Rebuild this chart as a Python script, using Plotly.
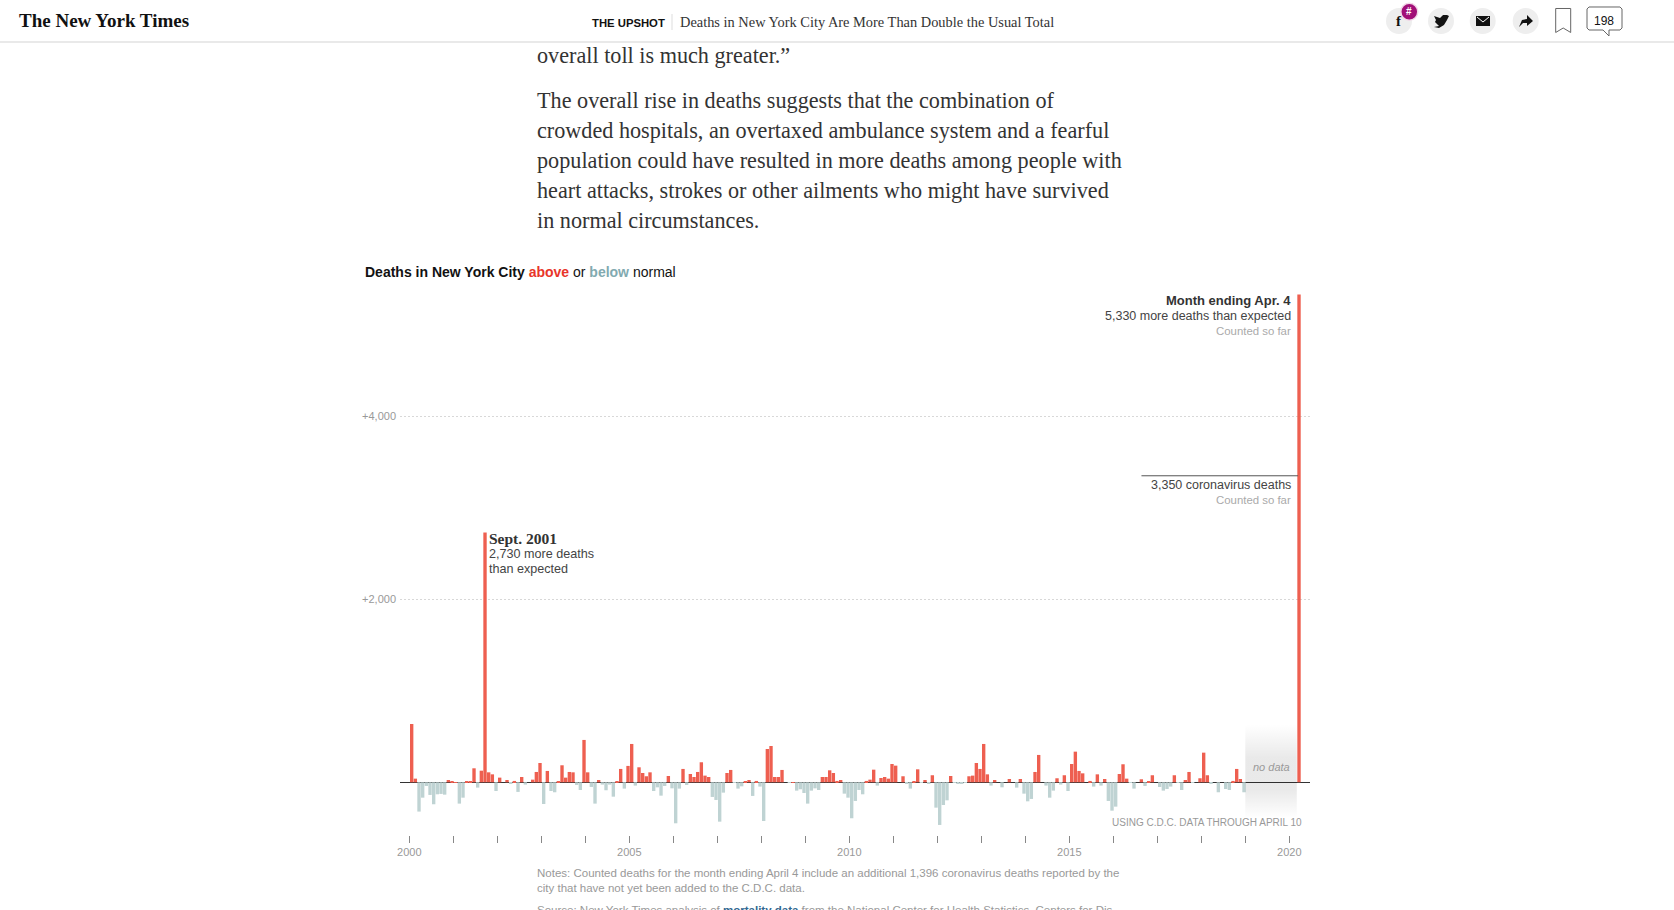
# deaths in new york city above or below normal, nyt upshot page
import plotly.graph_objects as go

W, H = 1674, 910

# monthly excess deaths
d2000 = [637, 40, -320, -168, -40, -138, -240, -131, -127, -135, 25, 5]
d2001 = [3, -233, -168, 4, 4, 153, -58, 127, 2730, 109, 87, -95]
d2002 = [51, 0, 25, -15, 15, -105, 58, -25, 0, 29, 113, 211]
d2003 = [-237, 124, -95, -109, 4, 186, 51, 113, 109, -29, -84, 463]
d2004 = [109, -51, -233, 25, -25, -87, -25, -157, 11, 146, -69, 179]
d2005 = [419, -36, 164, 102, 66, 109, -95, -55, -146, -40, 69, -66]
d2006 = [-448, -69, 146, -29, 91, 58, 113, 219, 73, 58, -160, -193]
d2007 = [-430, -113, 102, 135, -7, -69, -44, 11, 25, -149, 15, -47]
d2008 = [-423, 364, 397, 58, 58, 135, 0, -5, 2, -91, -76, -117]
d2009 = [-233, -91, -66, -84, 58, 58, 131, 102, 15, 25, -124, -168]
d2010 = [-393, -204, -84, -131, 15, 29, 138, -36, 47, 58, 40, 200]
d2011 = [182, 0, 66, -11, -69, 7, 142, -7, 25, -18, 77, -277]
d2012 = [-466, -248, -197, 69, -7, -11, -11, -7, 66, 73, 211, 146]
d2013 = [419, 87, -36, 25, 0, -55, 0, 36, 0, -58, 36, -124]
d2014 = [-208, -182, 113, 299, 0, -36, -168, -91, 44, -25, 77, -95]
d2015 = [200, 335, 124, 98, 0, 15, -47, 87, -36, 36, -204, -310]
d2016 = [-266, 91, 197, 40, -7, -69, 0, 33, -40, 4, 77, 0]
d2017 = [-51, -91, -73, -47, 77, -4, -84, 25, 113, -7, 0, 44]
d2018 = [324, 77, -15, 0, -109, 0, -73, -84, 15, 146, 36, -109]
d2019 = [None] * 12
d2020 = [None, None, 5330]
coronavirus_deaths = 3350

all_years = [d2000, d2001, d2002, d2003, d2004, d2005, d2006, d2007, d2008, d2009,
             d2010, d2011, d2012, d2013, d2014, d2015, d2016, d2017, d2018, d2019, d2020]

tick_years = list(range(2000, 2021))
tick_labels = [str(y) if y % 5 == 0 else "" for y in tick_years]
grid_values = [2000, 4000]
grid_labels = ["+2,000", "+4,000"]

RED = "#ee5f50"
BLUE = "#bfd3d3"
SANS = "Liberation Sans"
SERIF = "Liberation Serif"

# pixel box of the chart in the page
LEFT, RIGHT, BOTTOM = 400, 1310, 835
ZERO_PX, PX_PER_DEATH = 782.3, 0.0915
PX_PER_YEAR = 44
YEAR_2000_PX = 409.3

months, values = [], []
for n, year in enumerate(all_years):
    for m, v in enumerate(year):
        months.append(2000 + n + (m + 0.65) / 12)
        values.append(v)
colors = [RED if (v or 0) > 0 else BLUE for v in values]


def px(x):
    return x / W


def py(y):
    return 1 - y / H


fig = go.Figure()

# grey "no data" band, fades out at both ends
fig.add_trace(go.Scatter(
    x=[2019, 2019, 2020.17, 2020.17, 2019], y=[630, -390, -390, 630, 630],
    mode="none", fill="toself", hoverinfo="skip",
    fillgradient=dict(type="vertical", colorscale=[
        [0, "rgba(0,0,0,0)"], [0.35, "rgba(0,0,0,0.085)"], [0.7, "rgba(0,0,0,0.085)"], [1, "rgba(0,0,0,0)"]],
        start=630, stop=-390),
))
fig.add_trace(go.Bar(x=months, y=values, width=0.92 / 12, marker=dict(color=colors, line_width=0)))

fig.update_xaxes(
    domain=[px(LEFT), px(RIGHT)], automargin=False,
    range=[2000 + (LEFT - YEAR_2000_PX) / PX_PER_YEAR, 2000 + (RIGHT - YEAR_2000_PX) / PX_PER_YEAR],
    tickmode="array", tickvals=tick_years, ticktext=tick_labels,
    ticks="outside", ticklen=7, tickwidth=1, tickcolor="#888",
    tickfont=dict(family=SANS, size=11, color="#999"),
    showgrid=False, zeroline=False, showline=False, fixedrange=True,
)
fig.update_yaxes(
    domain=[py(BOTTOM), 1], automargin=False,
    range=[(ZERO_PX - BOTTOM) / PX_PER_DEATH, ZERO_PX / PX_PER_DEATH],
    tickmode="array", tickvals=grid_values, ticktext=grid_labels,
    tickfont=dict(family=SANS, size=11, color="#999"), ticklabelstandoff=3,
    ticks="", showgrid=True, gridcolor="#d8d8d8", griddash="2px,2px", gridwidth=1,
    zeroline=True, zerolinecolor="#333", zerolinewidth=1, showline=False, fixedrange=True,
)


def note(text, x, y, size=12, color="#333", family=SANS, align="left"):
    # annotations carry about 2px of padding inside their box, take it back out
    nudge = {"left": -2, "right": 2, "center": 0}[align]
    fig.add_annotation(text=text, x=px(x + nudge), y=py(y - 0.7), xref="paper", yref="paper", showarrow=False,
                       xanchor=align, yanchor="middle", align=align,
                       font=dict(family=family, size=size, color=color))


# chart texts
note('<b>Deaths in New York City</b> <b style="color:#e8352a">above</b> or '
     '<b style="color:#82aab0">below</b> normal', 364.5, 272.5, size=14, color="#121212")
note("<b>Month ending Apr. 4</b>", 1291, 301, size=13, color="#333", align="right")
note("5,330 more deaths than expected", 1291, 316.5, size=12.5, color="#444", align="right")
note("Counted so far", 1291, 332, size=11.4, color="#aaa", align="right")
note("3,350 coronavirus deaths", 1291, 485.5, size=12.5, color="#444", align="right")
note("Counted so far", 1291, 500.5, size=11.4, color="#aaa", align="right")
note("<b>Sept. 2001</b>", 489, 539, size=15.5, color="#333", family=SERIF)
note("2,730 more deaths", 489, 555, size=12.6, color="#444")
note("than expected", 489, 570, size=12.6, color="#444")
note("<i>no data</i>", 1271, 768, size=11, color="#999", align="center")
note("USING C.D.C. DATA THROUGH APRIL 10", 1302, 823, size=10, color="#999", align="right")

# coronavirus rule across to the last bar
fig.add_shape(type="line", xref="x", yref="y", x0=2016.64, x1=2020.2,
              y0=coronavirus_deaths, y1=coronavirus_deaths, line=dict(color="#555", width=1))

# article text around the chart
note("overall toll is much greater.”", 537, 56, size=22.2, color="#333", family=SERIF)
body = ["The overall rise in deaths suggests that the combination of",
        "crowded hospitals, an overtaxed ambulance system and a fearful",
        "population could have resulted in more deaths among people with",
        "heart attacks, strokes or other ailments who might have survived",
        "in normal circumstances."]
for n, line in enumerate(body):
    note(line, 537, 101 + 30 * n, size=22.2, color="#333", family=SERIF)
note("Notes: Counted deaths for the month ending April 4 include an additional 1,396 coronavirus deaths reported by the",
     537, 874, size=11.5, color="#999")
note("city that have not yet been added to the C.D.C. data.", 537, 889, size=11.5, color="#999")
note('Source: New York Times analysis of <b style="color:#326891">mortality data</b> from the National Center for '
     'Health Statistics, Centers for Dis', 537, 911, size=11.5, color="#999")

# top bar of the page
fig.add_shape(type="rect", xref="paper", yref="paper", x0=0, x1=1, y0=py(42), y1=1,
              fillcolor="white", line_width=0)
fig.add_shape(type="line", xref="paper", yref="paper", x0=0, x1=1, y0=py(42), y1=py(42),
              line=dict(color="#e2e2e2", width=1.5))
note("<b>The New York Times</b>", 19, 21, size=19, color="#111", family=SERIF)
note("<b>THE UPSHOT</b>", 592, 23.5, size=11.3, color="#111")
fig.add_shape(type="line", xref="paper", yref="paper", x0=px(672), x1=px(672), y0=py(14), y1=py(30),
              line=dict(color="#ddd", width=1))
note("Deaths in New York City Are More Than Double the Usual Total", 680, 22.5, size=14.4, color="#333", family=SERIF)


def circle(cx, cy, r, fill, line=None):
    fig.add_shape(type="circle", xref="paper", yref="paper", layer="above",
                  x0=px(cx - r), x1=px(cx + r), y0=py(cy + r), y1=py(cy - r), fillcolor=fill,
                  line=dict(color=line or fill, width=1.5 if line else 0))


def path(points, fill=None, line=None, width=1.5):
    d = "M" + " L".join(f"{px(x):.5f},{py(y):.5f}" for x, y in points) + (" Z" if fill else "")
    fig.add_shape(type="path", xref="paper", yref="paper", path=d, layer="above",
                  fillcolor=fill or "rgba(0,0,0,0)", line=dict(color=line or fill, width=width if line else 0))


for cx in [1399, 1441, 1482.7, 1525.7]:
    circle(cx, 21, 13, "#eeeeee")
note("<b>f</b>", 1399, 22, size=15, color="#111", family=SERIF, align="center")
# twitter bird
path([(1434, 27), (1439, 26), (1435, 22), (1436, 20), (1434, 16), (1440, 18), (1443, 15), (1447, 15),
      (1449, 16), (1447, 20), (1444, 25), (1439, 28)], fill="#111")
# envelope
path([(1476, 16), (1490, 16), (1490, 26), (1476, 26)], fill="#111")
path([(1477, 17), (1483, 22), (1489, 17)], line="white", width=1)
# share arrow
path([(1519, 27), (1522, 20), (1527, 19), (1527, 15), (1533, 21), (1527, 26), (1527, 23), (1523, 23)], fill="#111")
circle(1409.3, 11.7, 8.5, "#a10f78", line="#f2d8e8")
note("<b>#</b>", 1409.3, 12, size=10, color="white", align="center")
# bookmark
path([(1555.7, 8.5), (1570.7, 8.5), (1570.7, 32.5), (1563.2, 28), (1555.7, 32.5), (1555.7, 8.5)],
     line="#666", width=1)
# comment bubble
path([(1589, 7), (1620, 7), (1622, 9), (1622, 28), (1620, 30), (1609, 30), (1609, 36), (1603, 30),
      (1589, 30), (1587, 28), (1587, 9), (1589, 7)], line="#666", width=1)
note("198", 1604, 22, size=12, color="#111", align="center")

fig.update_layout(
    width=W, height=H, margin=dict(l=0, r=0, t=0, b=0), showlegend=False,
    paper_bgcolor="white", plot_bgcolor="rgba(0,0,0,0)", hovermode=False,
)

fig.write_html("out.html", config={"displayModeBar": False},
               post_script="document.body.style.margin='0';document.body.style.overflow='hidden';")
